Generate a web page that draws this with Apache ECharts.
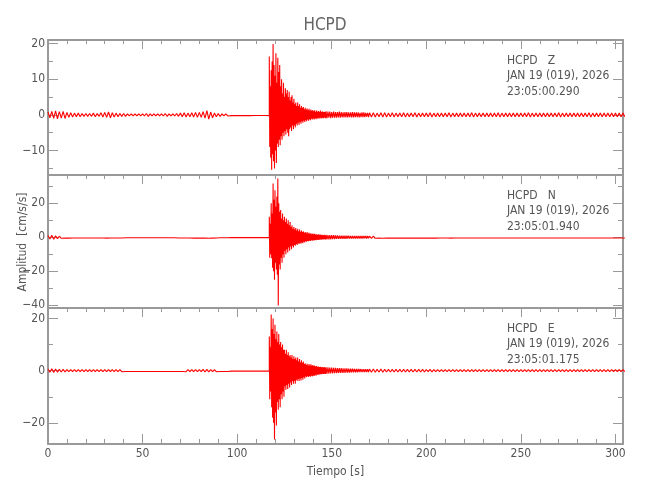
<!DOCTYPE html>
<html><head><meta charset="utf-8">
<script src="https://cdn.jsdelivr.net/npm/echarts@6/dist/echarts.min.js"></script>
<style>html,body{margin:0;padding:0;background:#fff}#c{width:650px;height:500px}</style>
</head><body><div id="c"></div>
<script>
// ---- data (amplitude envelopes, cm/s/s) ----
const xRange = [0, 304];
const xTickInterval = 50;
const quietStart = 0, quietStep = 2;    // 2-s bins, 0..116 s (half-amplitude)
const coreStart = 117, coreStep = 0.5;  // 0.5-s bins, 117..146.5 s (max / min)
const codaStart = 147, codaStep = 1;    // 1-s bins, 147..169 s (max / min)
const tailStart = 170, tailStep = 2;    // 2-s bins, 170..304 s (half-amplitude)

const zQuiet = [0.8,1.0,1.1,0.9,1.0,0.7,0.6,0.5,0.5,0.4, 0.4,0.4,0.5,0.4,0.6,0.7,0.8,0.6,0.5,0.4, 0.4,0.3,0.3,0.3,0.3,0.3,0.4,0.3,0.3,0.3, 0.3,0.4,0.3,0.3,0.4,0.5,0.6,0.5,0.6,0.7, 0.7,0.9,1.2,0.8,0.5,0.4,0.3,0.3,0.2,0.2, 0.2,0.2,0.2,0.2,0.15,0.15,0.15,0.15,0.2];
const zCoreMax = [16.4,8,12.5,15,19.9,14,11,17.3,9,16, 12,14,8,10,6,9,5,7.5,6,7, 5,6.5,4,5,5.5,3.5,4.5,3,3.5,2.5, 3.5,2.5,3,2,2.5,2,2.2,1.6,2,1.5, 1.8,1.3,1.7,1.2,1.5,1.1,1.4,1.0,1.3,0.9, 1.2,0.9,1.1,0.8,1.2,0.8,1.0,0.8,0.9,0.8];
const zCoreMin = [-9,-12,-15.4,-11,-13,-15,-10,-13.5,-8,-9, -7,-8.5,-6,-7,-5,-6,-4.5,-5.5,-4,-5, -6,-4,-3.5,-4.5,-3,-4,-3,-3.5,-2.5,-3, -2.2,-2.8,-2,-2.5,-1.8,-2.2,-1.6,-2,-1.5,-1.8, -1.3,-1.6,-1.2,-1.5,-1.1,-1.3,-1.0,-1.3,-0.9,-1.2, -0.9,-1.1,-0.8,-1.0,-0.8,-1.0,-0.8,-0.9,-0.7,-0.9];
const zCodaMax = [1.0,0.9,0.9,0.8,0.9,0.8,0.8,0.9,0.8,0.7, 0.8,0.8,0.7,0.7,0.8,0.7,0.7,0.7,0.6,0.7, 0.7,0.6,0.6];
const zCodaMin = [-0.9,-0.8,-0.9,-0.8,-0.8,-0.8,-0.7,-0.8,-0.7,-0.7, -0.7,-0.7,-0.6,-0.7,-0.7,-0.6,-0.6,-0.7,-0.6,-0.6, -0.6,-0.5,-0.6];
const zTail = [0.6,0.6,0.5,0.6,0.6,0.5,0.6,0.5,0.5,0.6, 0.5,0.5,0.6,0.5,0.5,0.5,0.6,0.5,0.5,0.5, 0.5,0.6,0.5,0.5,0.5,0.5,0.5,0.6,0.5,0.5, 0.5,0.5,0.5,0.5,0.6,0.5,0.5,0.5,0.5,0.5, 0.5,0.5,0.6,0.5,0.5,0.5,0.5,0.5,0.5,0.5, 0.6,0.5,0.5,0.5,0.5,0.5,0.5,0.5,0.6,0.5, 0.5,0.5,0.5,0.5,0.5,0.5,0.5,0.5];

const nQuiet = [1.0,1.2,0.8,0.6,0.5,0.5,0.4,0.4,0.4,0.4, 0.4,0.4,0.4,0.4,0.4,0.5,0.4,0.4,0.4,0.4, 0.3,0.3,0.3,0.3,0.3,0.3,0.3,0.3,0.3,0.3, 0.3,0.3,0.3,0.3,0.4,0.4,0.4,0.4,0.5,0.5, 0.5,0.5,0.6,0.5,0.4,0.3,0.3,0.3,0.2,0.2, 0.2,0.2,0.2,0.2,0.2,0.2,0.2,0.2,0.2];
const nCoreMax = [12,8,20,14,31.6,22,27.7,18,24,34.5, 20,15,16,11,14,10,12,9,11,8, 10,7,9,6,7,5,6,4.5,5.5,4, 5,3.5,4.5,3.2,4,3,3.5,2.6,3,2.4, 3,2.2,2.6,2,2.4,1.8,2.2,1.7,2,1.6, 1.8,1.5,1.7,1.4,1.6,1.3,1.5,1.2,1.5,1.2];
const nCoreMin = [-12,-10,-12.3,-18,-20,-25,-15,-19,-22,-40.2, -16,-19,-12,-15,-10,-12,-8,-10,-7,-9, -6,-8,-5.5,-7,-5,-6,-4.5,-5,-4,-4.5, -3.5,-4,-3.2,-3.8,-3,-3.5,-2.6,-3,-2.4,-2.6, -2.2,-2.4,-2,-2.2,-1.8,-2,-1.7,-1.9,-1.6,-1.8, -1.5,-1.6,-1.4,-1.5,-1.3,-1.4,-1.2,-1.3,-1.2,-1.3];
const nCodaMax = [1.4,1.3,1.3,1.2,1.2,1.1,1.1,1.0,1.0,1.0, 0.9,0.9,0.9,0.8,0.8,0.8,0.7,0.8,0.7,0.7, 0.7,0.7,0.7];
const nCodaMin = [-1.3,-1.2,-1.2,-1.1,-1.1,-1.0,-1.0,-1.0,-0.9,-0.9, -0.9,-0.8,-0.8,-0.8,-0.8,-0.7,-0.7,-0.7,-0.7,-0.7, -0.6,-0.7,-0.6];
const nTail = [0.6,0.6,0.5,0.6,0.5,0.5,0.5,0.5,0.5,0.5, 0.5,0.5,0.5,0.4,0.5,0.5,0.4,0.5,0.4,0.4, 0.4,0.5,0.4,0.4,0.4,0.4,0.4,0.4,0.4,0.4, 0.4,0.4,0.4,0.4,0.4,0.4,0.4,0.4,0.4,0.4, 0.4,0.4,0.4,0.4,0.4,0.4,0.4,0.4,0.4,0.4, 0.4,0.4,0.4,0.4,0.4,0.4,0.4,0.4,0.4,0.4, 0.4,0.4,0.4,0.4,0.4,0.4,0.4,0.4];

const eQuiet = [0.6,0.7,0.6,0.5,0.5,0.4,0.4,0.4,0.4,0.4, 0.4,0.4,0.4,0.4,0.4,0.4,0.4,0.4,0.4,0.4, 0.3,0.3,0.3,0.3,0.3,0.3,0.3,0.3,0.3,0.3, 0.3,0.3,0.3,0.3,0.3,0.3,0.4,0.4,0.4,0.4, 0.4,0.5,0.5,0.4,0.4,0.3,0.3,0.3,0.2,0.2, 0.2,0.2,0.2,0.2,0.2,0.2,0.2,0.2,0.2];
const eCoreMax = [13.1,9,21.5,16,20,14,17.6,12,15,11, 14,10,11,9,10,8,8,6.5,8,6, 7,5.5,6,5,6,4.5,5.5,4.5,5,4, 5,3.5,4.5,3.2,4,3,3.5,2.5,2.8,2.2, 2.6,2,2.5,2,2.4,1.9,2.2,1.8,2,1.6, 1.8,1.5,1.6,1.4,1.5,1.3,1.4,1.2,1.4,1.2];
const eCoreMin = [-11,-8,-14,-18,-20,-26.4,-16,-21,-12,-15, -11,-14,-9,-11,-8,-10,-6,-7.3,-5.5,-7, -5,-6.5,-4.5,-5.5,-4,-5,-4,-5,-3.5,-4, -3.2,-4,-3,-3.8,-2.8,-3.5,-2.5,-3,-2.2,-2.5, -2.1,-2.4,-2,-2.3,-1.9,-2.2,-1.8,-2,-1.6,-1.9, -1.5,-1.7,-1.4,-1.5,-1.3,-1.4,-1.2,-1.3,-1.2,-1.3];
const eCodaMax = [1.3,1.3,1.2,1.2,1.1,1.1,1.0,1.0,1.0,0.9, 0.9,0.9,0.8,0.8,0.8,0.7,0.7,0.7,0.7,0.6, 0.6,0.6,0.6];
const eCodaMin = [-1.2,-1.2,-1.1,-1.1,-1.0,-1.0,-0.9,-0.9,-0.9,-0.9, -0.8,-0.8,-0.8,-0.7,-0.7,-0.7,-0.7,-0.6,-0.6,-0.6, -0.6,-0.6,-0.5];
const eTail = [0.6,0.6,0.5,0.6,0.5,0.5,0.5,0.5,0.5,0.5, 0.5,0.5,0.5,0.5,0.5,0.4,0.5,0.4,0.4,0.4, 0.4,0.4,0.4,0.4,0.4,0.4,0.4,0.4,0.4,0.4, 0.4,0.4,0.4,0.4,0.4,0.4,0.4,0.4,0.4,0.4, 0.4,0.4,0.4,0.4,0.4,0.4,0.4,0.4,0.4,0.4, 0.4,0.4,0.4,0.4,0.4,0.4,0.4,0.4,0.4,0.4, 0.4,0.4,0.4,0.4,0.4,0.4,0.4,0.4];

const yRanges = [[-16.85, 21.0], [-41.6, 36.6], [-28.1, 24.0]];
const yMajor = [[-10, 0, 10, 20], [-40, -20, 0, 20], [-20, 0, 20]];
const yMinor = [[-15, -5, 5, 15], [-30, -10, 10, 30], [-10, 10]];
const channels = ['Z', 'N', 'E'];
const startTimes = ['23:05:00.290', '23:05:01.940', '23:05:01.175'];
const stationName = 'HCPD';
const dateText = 'JAN 19 (019), 2026';

// ---- build ----
function trace(quiet, coreMax, coreMin, codaMax, codaMin, tail) {
  const pts = [];
  quiet.forEach((a, i) => { const t = quietStart + i * quietStep; pts.push([t, a], [t + quietStep / 2, -a]); });
  coreMax.forEach((a, i) => { const t = coreStart + i * coreStep; pts.push([t, a], [t + coreStep / 2, coreMin[i]]); });
  codaMax.forEach((a, i) => { const t = codaStart + i * codaStep; pts.push([t, a], [t + codaStep / 2, codaMin[i]]); });
  tail.forEach((a, i) => { const t = tailStart + i * tailStep; pts.push([t, a], [t + tailStep / 2, -a]); });
  return pts;
}
const traces = [
  trace(zQuiet, zCoreMax, zCoreMin, zCodaMax, zCodaMin, zTail),
  trace(nQuiet, nCoreMax, nCoreMin, nCodaMax, nCodaMin, nTail),
  trace(eQuiet, eCoreMax, eCoreMin, eCodaMax, eCodaMin, eTail)
];

const FONT = '"DejaVu Sans Condensed", "DejaVu Sans", sans-serif';
const AX = '#999';
const TXT = '#555';
const grids = [
  { left: 48, right: 27, top: 40, height: 135 },
  { left: 48, right: 27, top: 175, height: 133 },
  { left: 48, right: 27, top: 308, height: 136 }
];
const fmt = v => (v < 0 ? '\u2212' + Math.abs(v) : String(v));

const xAxes = [], yAxes = [], series = [], graphics = [];
grids.forEach((g, i) => {
  const last = i === 2;
  xAxes.push({
    gridIndex: i, type: 'value', position: 'bottom', min: xRange[0], max: xRange[1], interval: xTickInterval,
    axisLine: { show: true, onZero: false, lineStyle: { color: AX, width: 2 } },
    axisTick: { show: last, inside: true, length: 10, lineStyle: { color: AX, width: 1 } },
    minorTick: { show: last, splitNumber: 5, length: 5, lineStyle: { color: AX, width: 1 } },
    axisLabel: { show: last, color: TXT, fontFamily: FONT, fontSize: 12, margin: 4 },
    splitLine: { show: false },
    name: last ? 'Tiempo [s]' : '', nameLocation: 'middle', nameGap: 22,
    nameTextStyle: { color: TXT, fontFamily: FONT, fontSize: 12 }
  });
  xAxes.push({
    gridIndex: i, type: 'value', position: 'top', min: xRange[0], max: xRange[1], interval: xTickInterval,
    axisLine: { show: true, onZero: false, lineStyle: { color: AX, width: 2 } },
    axisTick: { show: true, inside: true, length: 9, lineStyle: { color: AX, width: 1 } },
    minorTick: { show: true, splitNumber: 5, length: 4, lineStyle: { color: AX, width: 1 } },
    axisLabel: { show: false }, splitLine: { show: false }
  });
  const [mn, mx] = yRanges[i];
  ['left', 'right'].forEach(pos => {
    yAxes.push({
      gridIndex: i, type: 'value', position: pos, min: mn, max: mx,
      axisLine: { show: true, onZero: false, lineStyle: { color: AX, width: 2 } },
      axisTick: { show: true, inside: true, length: 10, customValues: yMajor[i], lineStyle: { color: AX, width: 1 } },
      axisLabel: { show: pos === 'left', customValues: yMajor[i], formatter: fmt, color: TXT, fontFamily: FONT, fontSize: 12, margin: 3 },
      splitLine: { show: false }
    });
    yAxes.push({
      gridIndex: i, type: 'value', position: pos, min: mn, max: mx,
      axisLine: { show: false, onZero: false },
      axisTick: { show: true, inside: true, length: 5, customValues: yMinor[i], lineStyle: { color: AX, width: 1 } },
      axisLabel: { show: false }, splitLine: { show: false }
    });
  });
  series.push({
    type: 'line', xAxisIndex: 2 * i, yAxisIndex: 4 * i, data: traces[i],
    showSymbol: false, symbol: 'none', clip: true, silent: true,
    lineStyle: { color: '#ff0000', width: 1.1 }
  });
  graphics.push({
    type: 'text', left: 507, top: g.top + 13,
    style: { text: stationName + '   ' + channels[i] + '\n' + dateText + '\n' + startTimes[i],
      fill: TXT, font: '12px ' + FONT, lineHeight: 15.5 }
  });
});
graphics.push({
  type: 'text', x: 23, y: 242, rotation: Math.PI / 2,
  style: { text: 'Amplitud  [cm/s/s]', fill: TXT, font: '12px ' + FONT, textAlign: 'center', textVerticalAlign: 'middle' }
});

const chart = echarts.init(document.getElementById('c'), null, { renderer: 'canvas' });
chart.setOption({
  animation: false,
  backgroundColor: '#fff',
  title: { text: stationName, left: 'center', top: 12,
    textStyle: { color: '#666', fontFamily: FONT, fontSize: 17, fontWeight: 'normal' } },
  grid: grids,
  xAxis: xAxes,
  yAxis: yAxes,
  series: series,
  graphic: graphics
});
</script></body></html>
